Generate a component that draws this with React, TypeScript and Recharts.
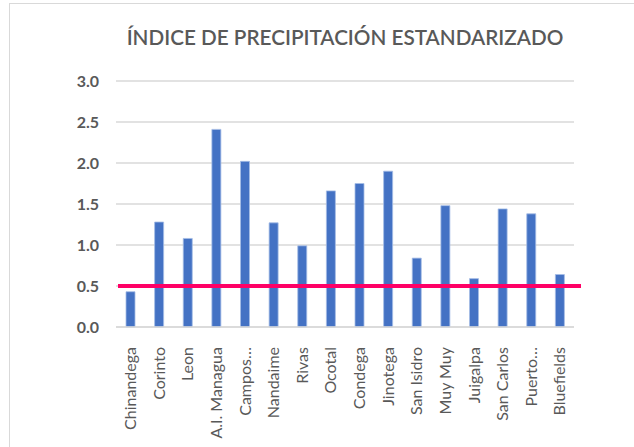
import React from "react";
import { BarChart, Bar, XAxis, YAxis, CartesianGrid, ReferenceLine } from "recharts";

const stations = [
  "Chinandega",
  "Corinto",
  "Leon",
  "A.I. Managua",
  "Campos…",
  "Nandaime",
  "Rivas",
  "Ocotal",
  "Condega",
  "Jinotega",
  "San Isidro",
  "Muy Muy",
  "Juigalpa",
  "San Carlos",
  "Puerto…",
  "Bluefields",
];
const ipeValues = [0.43, 1.28, 1.08, 2.41, 2.02, 1.27, 0.99, 1.66, 1.75, 1.9, 0.84, 1.48, 0.59, 1.44, 1.38, 0.64];
const yTicks = [0, 0.5, 1, 1.5, 2, 2.5, 3];
const threshold = 0.5;

const data = stations.map((name, i) => ({ name, value: ipeValues[i] }));

const FONT = "Lato, 'Open Sans', sans-serif";
const TEXT = "#595959";

function StationTick(props: any) {
  const { x, y, payload } = props;
  return (
    <g transform={`translate(${x},${y + 12})`}>
      <text
        transform="rotate(-90)"
        textAnchor="end"
        dy="0.36em"
        fill={TEXT}
        fontSize={16}
        fontFamily={FONT}
      >
        {payload.value}
      </text>
    </g>
  );
}

function ThresholdLine(props: any) {
  const { x1, x2, y1 } = props;
  return <line x1={x1 + 2} x2={x2 + 7} y1={y1} y2={y1} stroke="#FF0066" strokeWidth={4} />;
}

export default function App() {
  return (
    <div style={{ position: "fixed", left: 0, top: 0, width: 634, height: 447, background: "#fff", overflow: "hidden" }}>
      <div
        style={{
          position: "absolute",
          left: 9,
          top: 3,
          width: 700,
          height: 500,
          borderLeft: "1.5px solid #D9D9D9",
          borderTop: "1.5px solid #D9D9D9",
        }}
      />
      <div
        style={{
          position: "absolute",
          left: 0,
          width: 690,
          top: 25,
          textAlign: "center",
          fontFamily: FONT,
          fontSize: 20.7,
          fontWeight: 600,
          color: TEXT,
          whiteSpace: "nowrap",
        }}
      >
        ÍNDICE DE PRECIPITACIÓN ESTANDARIZADO
      </div>
      <div style={{ position: "absolute", left: 0, top: 0 }}>
        <BarChart width={634} height={447} data={data} margin={{ top: 81, right: 60, bottom: 10, left: 76 }}>
          <CartesianGrid vertical={false} stroke="#D9D9D9" strokeWidth={1.5} />
          <XAxis
            dataKey="name"
            interval={0}
            height={110}
            tickLine={false}
            axisLine={{ stroke: "#D9D9D9", strokeWidth: 1.5 }}
            tick={<StationTick />}
          />
          <YAxis
            width={40}
            domain={[0, 3]}
            ticks={yTicks}
            axisLine={false}
            tickLine={false}
            tickMargin={11}
            tickFormatter={(v: number) => v.toFixed(1)}
            tick={{ fill: TEXT, fontSize: 16, fontWeight: 700, fontFamily: FONT }}
          />
          <Bar dataKey="value" fill="#4472C4" stroke="#A4BDE6" strokeWidth={0.8} barSize={9} isAnimationActive={false} />
          <ReferenceLine y={threshold} shape={<ThresholdLine />} ifOverflow="visible" />
        </BarChart>
      </div>
    </div>
  );
}
